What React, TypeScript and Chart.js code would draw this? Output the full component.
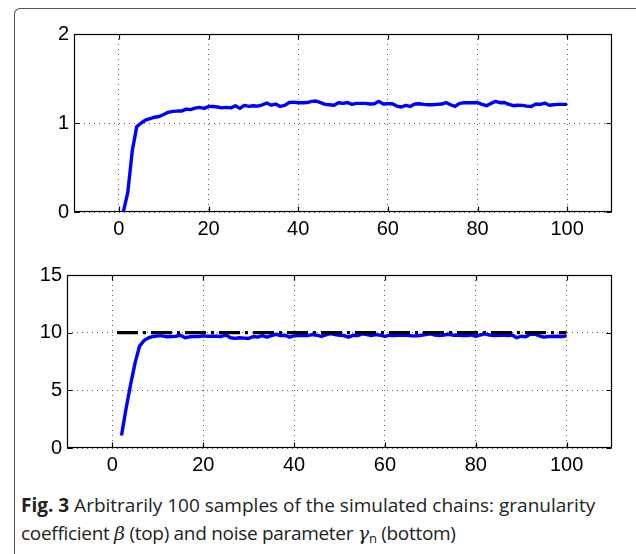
import React, { useEffect, useRef } from "react";
import { Chart, registerables } from "chart.js";

Chart.register(...registerables);

// ---------- data ----------
const xTickValues = [0, 20, 40, 60, 80, 100];
const betaTickValues = [0, 1, 2];
const gammaTickValues = [0, 5, 10, 15];

// granularity coefficient beta, samples 1..100
const betaStart = 1;
const betaValues = [
  0.0, 0.22, 0.69, 0.96, 1.0, 1.035, 1.05, 1.065, 1.073, 1.096,
  1.12, 1.13, 1.134, 1.134, 1.156, 1.15, 1.167, 1.175, 1.164, 1.186,
  1.186, 1.18, 1.17, 1.175, 1.17, 1.194, 1.164, 1.198, 1.186, 1.194,
  1.19, 1.205, 1.224, 1.2, 1.213, 1.186, 1.198, 1.23, 1.235, 1.228,
  1.228, 1.23, 1.243, 1.247, 1.228, 1.209, 1.205, 1.2, 1.228, 1.22,
  1.23, 1.209, 1.22, 1.22, 1.22, 1.213, 1.216, 1.243, 1.213, 1.216,
  1.216, 1.19, 1.18, 1.198, 1.186, 1.213, 1.216, 1.209, 1.205, 1.205,
  1.209, 1.213, 1.23, 1.205, 1.186, 1.22, 1.228, 1.228, 1.228, 1.23,
  1.209, 1.194, 1.22, 1.243, 1.228, 1.23, 1.209, 1.194, 1.2, 1.198,
  1.19, 1.186, 1.213, 1.209, 1.224, 1.2, 1.205, 1.209, 1.209, 1.209,
];

// noise parameter gamma_n, samples 2..100
const gammaStart = 2;
const gammaValues = [
  1.08, 3.4, 5.5, 7.4, 8.86, 9.33, 9.56, 9.67, 9.72,
  9.72, 9.64, 9.67, 9.69, 9.78, 9.56, 9.64, 9.67, 9.67, 9.72,
  9.69, 9.69, 9.69, 9.67, 9.8, 9.56, 9.5, 9.56, 9.53, 9.5,
  9.67, 9.61, 9.75, 9.61, 9.75, 9.86, 9.75, 9.78, 9.61, 9.72,
  9.75, 9.75, 9.75, 9.83, 9.78, 9.67, 9.8, 9.92, 9.83, 9.78,
  9.75, 9.61, 9.78, 9.75, 9.89, 9.83, 9.75, 9.83, 9.78, 9.67,
  9.78, 9.75, 9.78, 9.78, 9.78, 9.72, 9.72, 9.78, 9.83, 9.89,
  9.8, 9.75, 9.8, 9.86, 9.78, 9.8, 9.75, 9.75, 9.8, 9.69,
  9.8, 9.89, 9.8, 9.75, 9.78, 9.8, 9.75, 9.8, 9.56, 9.69,
  9.64, 9.86, 9.89, 9.72, 9.61, 9.67, 9.67, 9.69, 9.67, 9.72,
];

// true value of gamma_n (dash-dot reference)
const gammaTrueX = [1, 100];
const gammaTrueY = [10, 10];

// ---------- styling ----------
const TICK_FONT = { family: "'Liberation Sans', Arial, sans-serif", size: 20 };

const framePlugin = {
  id: "matlabFrame",
  beforeDatasetsDraw(chart: any) {
    const { ctx, chartArea: a, scales } = chart;
    const L = Math.round(a.left) + 0.5;
    const R = Math.round(a.right) - 0.5;
    const T = Math.round(a.top) + 0.5;
    const B = Math.round(a.bottom) - 0.5;
    ctx.save();
    ctx.strokeStyle = "#000";
    ctx.lineWidth = 1.2;
    ctx.setLineDash([]);
    ctx.strokeRect(L, T, R - L, B - T);
    const tl = 5;
    ctx.beginPath();
    scales.x.ticks.forEach((t: any) => {
      const px = Math.round(scales.x.getPixelForValue(t.value)) + 0.5;
      ctx.moveTo(px, B);
      ctx.lineTo(px, B - tl);
      ctx.moveTo(px, T);
      ctx.lineTo(px, T + tl);
    });
    scales.y.ticks.forEach((t: any) => {
      const py = Math.round(scales.y.getPixelForValue(t.value)) + 0.5;
      ctx.moveTo(L, py);
      ctx.lineTo(L + tl, py);
      ctx.moveTo(R, py);
      ctx.lineTo(R - tl, py);
    });
    ctx.stroke();
    ctx.restore();
  },
};

function makeScales(yMin: number, yMax: number, yTicks: number[]) {
  const grid = { color: "#606060", lineWidth: 1, drawTicks: false };
  const border = { display: false, dash: [1, 4] };
  return {
    x: {
      type: "linear",
      min: -10,
      max: 110,
      afterBuildTicks: (s: any) => {
        s.ticks = xTickValues.map((v) => ({ value: v }));
      },
      afterFit: (s: any) => {
        s.height = 30;
      },
      grid,
      border,
      ticks: {
        color: "#000",
        font: TICK_FONT,
        padding: 5,
        maxRotation: 0,
        autoSkip: false,
      },
    },
    y: {
      type: "linear",
      min: yMin,
      max: yMax,
      afterBuildTicks: (s: any) => {
        s.ticks = yTicks.map((v) => ({ value: v }));
      },
      afterFit: (s: any) => {
        s.width = 40;
      },
      grid,
      border,
      ticks: {
        color: "#000",
        font: TICK_FONT,
        padding: 5,
        autoSkip: false,
      },
    },
  };
}

function TopChart() {
  const ref = useRef<HTMLCanvasElement>(null);
  useEffect(() => {
    const pts = betaValues.map((v, i) => ({ x: betaStart + i, y: v }));
    const chart = new Chart(ref.current as HTMLCanvasElement, {
      type: "line",
      data: {
        datasets: [
          {
            data: pts,
            borderColor: "#0000ff",
            borderWidth: 3.4,
            pointRadius: 0,
            tension: 0,
            fill: false,
            borderJoinStyle: "round",
          } as any,
        ],
      },
      options: {
        animation: false,
        responsive: false,
        maintainAspectRatio: false,
        layout: { padding: { left: 34, right: 24, top: 34, bottom: 8 } },
        plugins: { legend: { display: false }, tooltip: { enabled: false } },
        scales: makeScales(0, 2, betaTickValues) as any,
      },
      plugins: [framePlugin],
    });
    return () => chart.destroy();
  }, []);
  return (
    <canvas
      ref={ref}
      width={636}
      height={250}
      style={{ position: "absolute", left: 0, top: 0, width: 636, height: 250 }}
    />
  );
}

function BottomChart() {
  const ref = useRef<HTMLCanvasElement>(null);
  useEffect(() => {
    const pts = gammaValues.map((v, i) => ({ x: gammaStart + i, y: v }));
    const truePts = gammaTrueX.map((x, i) => ({ x, y: gammaTrueY[i] }));
    const chart = new Chart(ref.current as HTMLCanvasElement, {
      type: "line",
      data: {
        datasets: [
          {
            data: truePts,
            borderColor: "#000",
            borderWidth: 3.4,
            borderDash: [21, 5, 3, 5],
            borderCapStyle: "butt",
            pointRadius: 0,
            tension: 0,
            fill: false,
          } as any,
          {
            data: pts,
            borderColor: "#0000ff",
            borderWidth: 3.4,
            pointRadius: 0,
            tension: 0,
            fill: false,
            borderJoinStyle: "round",
          } as any,
        ],
      },
      options: {
        animation: false,
        responsive: false,
        maintainAspectRatio: false,
        layout: { padding: { left: 27, right: 24, top: 25, bottom: 2 } },
        plugins: { legend: { display: false }, tooltip: { enabled: false } },
        scales: makeScales(0, 15, gammaTickValues) as any,
      },
      plugins: [framePlugin],
    });
    return () => chart.destroy();
  }, []);
  return (
    <canvas
      ref={ref}
      width={636}
      height={230}
      style={{ position: "absolute", left: 0, top: 250, width: 636, height: 230 }}
    />
  );
}

export default function App() {
  return (
    <div
      style={{
        position: "fixed",
        left: 0,
        top: 0,
        width: 636,
        height: 554,
        overflow: "hidden",
        background: "#fff",
      }}
    >
      <div
        style={{
          position: "absolute",
          left: 14,
          top: 8,
          width: 700,
          height: 700,
          borderLeft: "1px solid #555",
          borderTop: "1px solid #555",
          borderTopLeftRadius: 6,
        }}
      />
      <TopChart />
      <BottomChart />
      <div
        style={{
          position: "absolute",
          left: 21,
          top: 491,
          width: 615,
          fontFamily: "'Open Sans', sans-serif",
          fontSize: 19,
          lineHeight: "28px",
          color: "#222",
          whiteSpace: "nowrap",
        }}
      >
        <div>
          <b>Fig. 3</b> Arbitrarily 100 samples of the simulated chains: granularity
        </div>
        <div style={{ letterSpacing: "-0.3px" }}>
          coefficient <i style={{ fontFamily: "'DejaVu Serif', serif" }}>β</i> (top) and noise parameter{" "}
          <i style={{ fontFamily: "'DejaVu Serif', serif" }}>γ</i>
          <sub style={{ fontSize: 13, verticalAlign: "-3px" }}>n</sub> (bottom)
        </div>
      </div>
    </div>
  );
}
